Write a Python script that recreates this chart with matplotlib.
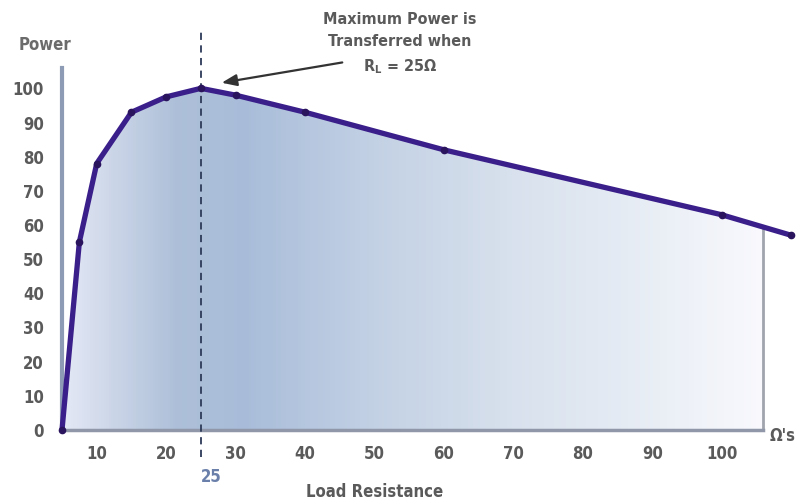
import numpy as np
import matplotlib.pyplot as plt
from matplotlib.colors import LinearSegmentedColormap

# Load resistance (ohms) and relative power (%)
resistance = [0, 5, 10, 15, 20, 25, 30, 40, 60, 100, 110]
power = [0, 55, 78, 93, 97.5, 100, 98, 93, 82, 63, 57]
x_ticks = [10, 20, 30, 40, 50, 60, 70, 80, 90, 100]
y_ticks = [0, 10, 20, 30, 40, 50, 60, 70, 80, 90, 100]
r_match = 25
r_fill_end = 106

grey = "#5a5a5a"
line_col = "#3a1e8a"
plt.rcParams['font.family'] = ['DejaVu Sans']
plt.rcParams['font.stretch'] = 'condensed'


# the drawing squeezes 0..10 into half the room of the other decades
def fwd(r):
    r = np.asarray(r, dtype=float)
    return np.where(r < 10, 5 + r / 2, r)


def inv(s):
    s = np.asarray(s, dtype=float)
    return np.where(s < 10, (s - 5) * 2, s)


fig = plt.figure(figsize=(7.98, 5.04), dpi=100)
ax = fig.add_axes([62 / 798, 74 / 504, 736 / 798, 410 / 504])
ax.set_xscale('function', functions=(fwd, inv))
ax.set_xlim(0, 111)
ax.set_ylim(0, 120)
ax.patch.set_alpha(0)

# gradient fill under the curve
r_arr = np.array(resistance, dtype=float)
p_arr = np.array(power, dtype=float)
p_end = np.interp(r_fill_end, r_arr, p_arr)
keep = r_arr < r_fill_end
fx = np.append(r_arr[keep], r_fill_end)
fy = np.append(p_arr[keep], p_end)
poly = ax.fill_between(fx, 0, fy, color='none', lw=0)

stops = [(0.0, "#e4e8f5"), (0.08, "#c8d3e6"), (0.16, "#adbfd8"),
         (0.26, "#a8bcd9"), (0.45, "#c3d1e4"), (0.65, "#d8e1ed"),
         (0.85, "#e9eef5"), (1.0, "#f8f8fd")]
cmap = LinearSegmentedColormap.from_list("fade", stops)
gx = np.linspace(0, r_fill_end, 300)
gy = np.array([0, 110])
shade = fwd(0.5 * (gx[:-1] + gx[1:]))[None, :]
mesh = ax.pcolormesh(gx, gy, shade, cmap=cmap, shading='flat', zorder=1)
mesh.set_clip_path(poly.get_paths()[0], ax.transData)

# frame lines
ax.plot([r_fill_end, r_fill_end], [0, p_end], color="#a0a4ad", lw=2, zorder=2)
for side in ['top', 'right']:
    ax.spines[side].set_visible(False)
ax.spines['left'].set_bounds(0, 106)
ax.spines['left'].set_color("#8e9bb4")
ax.spines['left'].set_linewidth(3)
ax.spines['bottom'].set_bounds(0, r_fill_end)
ax.spines['bottom'].set_color("#8f97a8")
ax.spines['bottom'].set_linewidth(2.5)

# dashed line at the matched load
ax.plot([r_match, r_match], [-8, 117], color="#2d3a58", lw=1.3,
        ls=(0, (4, 3)), clip_on=False, zorder=3)

ax.plot(resistance, power, color=line_col, lw=3.8, marker='o', ms=4.5,
        mfc="#2a145e", mec="#2a145e", clip_on=False, zorder=4,
        solid_capstyle='round')

ax.set_xticks(x_ticks)
ax.set_yticks(y_ticks)
ax.tick_params(length=0, labelsize=12, labelcolor=grey)
ax.tick_params(axis='y', pad=13)
ax.tick_params(axis='x', pad=11)
for lab in ax.get_xticklabels() + ax.get_yticklabels():
    lab.set_fontweight('bold')

ax.text(r_match, -11, "25", ha='left', va='top', fontsize=12,
        fontweight='bold', color="#6a80aa", transform=ax.transData)

fig.text(45 / 798, 1 - 45 / 504, "Power", ha='center', va='center',
         fontsize=12, fontweight='bold', color="#6b6b6b")
fig.text(375 / 798, 1 - 492 / 504, "Load Resistance", ha='center',
         va='center', fontsize=12, fontweight='bold', color=grey)
fig.text(770 / 798, 1 - 436 / 504, "Ω's", ha='left', va='center',
         fontsize=12, fontweight='bold', color=grey)
fig.text(400 / 798, 1 - 44 / 504,
         "Maximum Power is\nTransferred when\nR$_\\mathregular{L}$ = 25Ω",
         ha='center', va='center', fontsize=11.5, fontweight='bold',
         color=grey, linespacing=1.6)

ax.annotate("", xy=(27.6, 101.5), xycoords='data',
            xytext=(345, 504 - 62), textcoords='figure pixels',
            arrowprops=dict(arrowstyle='-|>,head_length=0.9,head_width=0.35',
                            color="#333333", lw=1.6))

fig.savefig("out.png", dpi=100)
